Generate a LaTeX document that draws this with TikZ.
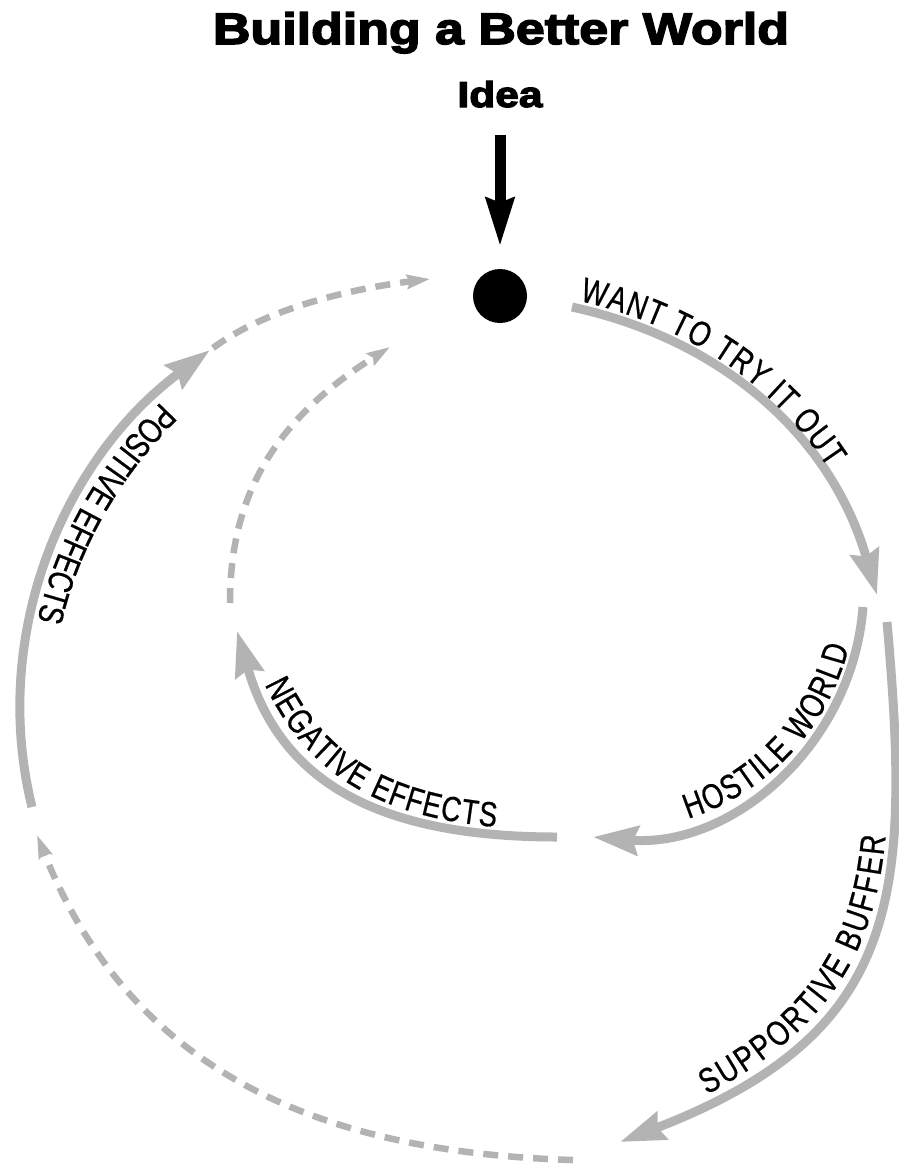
\documentclass[tikz,border=0pt]{standalone}
\usepackage{fontspec}
\usetikzlibrary{arrows.meta,decorations.text}
\newfontfamily\headfont[FakeStretch=1.18,BoldFeatures={FakeBold=3.5}]{Liberation Sans}
\newfontfamily\lblfont[FakeStretch=0.78,FakeBold=0.6]{Liberation Sans}
\definecolor{loopgray}{RGB}{179,179,179}
\newcommand{\lblstyle}{\lblfont\fontsize{35}{40}\selectfont}

\tikzset{
  solidarc/.style={draw=loopgray, line width=9pt,
    -{Stealth[length=45pt,width=29pt,inset=5pt,fill=loopgray]}},
  dasharc/.style={draw=loopgray, line width=6.5pt, dash pattern=on 15pt off 10pt,
    -{Stealth[length=23pt,width=14pt,inset=3pt,fill=loopgray]}},
  % text set letter by letter along a loop: start offset, letter gap, text
  arclabel/.style n args={3}{decorate, decoration={text effects along path,
    text={#3}, raise=7.5pt, pre=moveto, pre length=#1,
    text effects/.cd, text along path,
    characters={font=\lblstyle, inner sep=0pt, anchor=base},
    character widths={font=\lblstyle, inner xsep=#2, inner ysep=0pt}}},
}

\begin{document}
\begin{tikzpicture}[x=1pt,y=-1pt]
\useasboundingbox (0,0) rectangle (898,1165);

% headings
\node[font=\headfont\bfseries\fontsize{44}{50}\selectfont, anchor=base, inner sep=0]
  (title) at (501,44) {Building a Better World};
\node[font=\headfont\bfseries\fontsize{36}{40}\selectfont, anchor=base, inner sep=0]
  (idea) at (500,107) {Idea};

% the idea itself and the arrow dropping into it
\node[circle, fill=black, minimum size=54pt, inner sep=0] (dot) at (500,296) {};
\coordinate (dropTop) at (500,135);
\draw[line width=11pt, shorten >=22pt,
  -{Stealth[length=48pt,width=27pt,inset=4pt]}] (dropTop) -- (dot.north);

% end points of the loops
\coordinate (wtS) at (572,307);  \coordinate (wtE) at (877,595);
\coordinate (hwS) at (863,607);  \coordinate (hwE) at (593,837);
\coordinate (neS) at (557,837);  \coordinate (neE) at (237,631);
\coordinate (peS) at (32,807);   \coordinate (peE) at (210,350);
\coordinate (dtS) at (213,348);  \coordinate (dtE) at (430,279);
\coordinate (idS) at (230,603);  \coordinate (idE) at (390,347);
\coordinate (sbS) at (887,622);  \coordinate (sbE) at (620,1142);
\coordinate (bdS) at (573,1160); \coordinate (bdE) at (37,835);

% solid loops
\draw[solidarc] (wtS) .. controls (728,341) and (833,441) .. (wtE);
\draw[solidarc] (hwS) .. controls (852.3,745.6) and (731.5,848.4) .. (hwE);
\draw[solidarc] (neS) .. controls (375,837) and (280,780) .. (neE);
\draw[solidarc] (peS) .. controls (-10.5,635.4) and (63.1,459) .. (peE);
\draw[solidarc] (sbS) .. controls (911.4,898.4) and (900.7,1033.7) .. (sbE);

% dashed returns
\draw[dasharc] (dtS) .. controls (269,306) and (361,287.4) .. (dtE);
\draw[dasharc] (idS) .. controls (230,500.5) and (270,422.8) .. (idE);
\draw[dasharc] (bdS) .. controls (329.5,1152.7) and (133.8,1078.4) .. (bdE);

% labels running along the loops
\path[arclabel={5pt}{0.5pt}{WANT TO TRY IT OUT}]
  (wtS) .. controls (728,341) and (833,441) .. (wtE);
\path[arclabel={98pt}{1.1pt}{HOSTILE WORLD}]
  (hwE) .. controls (731.5,848.4) and (852.3,745.6) .. (hwS);
\path[arclabel={60pt}{0.8pt}{NEGATIVE EFFECTS}]
  (neE) .. controls (280,780) and (375,837) .. (neS);
\path[arclabel={72pt}{0pt}{POSITIVE EFFECTS}]
  (peE) .. controls (63.1,459) and (-10.5,635.4) .. (peS);
\path[arclabel={98pt}{1.4pt}{SUPPORTIVE BUFFER}]
  (sbE) .. controls (900.7,1033.7) and (911.4,898.4) .. (sbS);
\end{tikzpicture}
\end{document}
